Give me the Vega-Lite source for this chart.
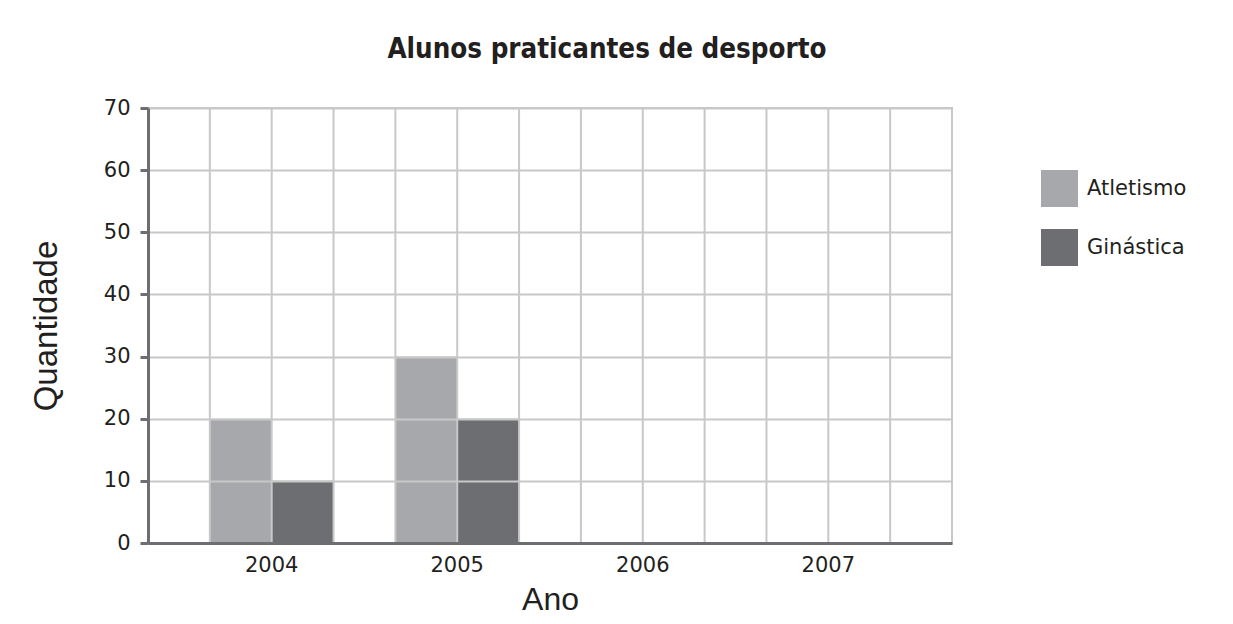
{
  "$schema": "https://vega.github.io/schema/vega-lite/v6.json",
  "width": 804,
  "height": 435,
  "autosize": {"type": "none"},
  "padding": {"left": 148, "top": 108, "right": 281, "bottom": 81},
  "background": "white",
  "title": {
    "text": "Alunos praticantes de desporto",
    "font": "DejaVu Sans Condensed",
    "fontWeight": "bold",
    "fontSize": 27.5,
    "color": "#231f20",
    "anchor": "middle",
    "frame": "group",
    "dx": 57,
    "offset": 34
  },
  "config": {
    "view": {"stroke": "#c8c8c8", "strokeWidth": 2},
    "font": "DejaVu Sans"
  },
  "datasets": {
    "bars": [
      {"Ano": "2004", "Desporto": "Atletismo", "Quantidade": 20},
      {"Ano": "2004", "Desporto": "Ginástica", "Quantidade": 10},
      {"Ano": "2005", "Desporto": "Atletismo", "Quantidade": 30},
      {"Ano": "2005", "Desporto": "Ginástica", "Quantidade": 20}
    ],
    "years": [
      {"Ano": "2004"},
      {"Ano": "2005"},
      {"Ano": "2006"},
      {"Ano": "2007"}
    ]
  },
  "layer": [
    {
      "data": {"name": "bars"},
      "mark": {"type": "bar"},
      "encoding": {
        "x": {
          "field": "Ano",
          "type": "ordinal",
          "scale": {"domain": ["2004", "2005", "2006", "2007"], "paddingInner": 0.3333, "paddingOuter": 0.3333},
          "axis": {
            "title": "Ano",
            "titleFont": "Liberation Sans",
            "titleFontSize": 32,
            "titleFontWeight": "normal",
            "titleColor": "#231f20",
            "titlePadding": 9,
            "labelFont": "DejaVu Sans",
            "labelFontSize": 21,
            "labelColor": "#231f20",
            "labelAngle": 0,
            "labelPadding": 11,
            "ticks": false,
            "grid": false,
            "domainColor": "#6d6e71",
            "domainWidth": 3,
            "zindex": 1
          }
        },
        "xOffset": {"field": "Desporto", "type": "nominal", "scale": {"paddingInner": 0, "paddingOuter": 0}},
        "y": {
          "field": "Quantidade",
          "type": "quantitative",
          "scale": {"domain": [0, 70]},
          "axis": {
            "title": "Quantidade",
            "titleFont": "Liberation Sans",
            "titleFontSize": 33,
            "titleFontWeight": "normal",
            "titleColor": "#231f20",
            "titlePadding": 40,
            "values": [0, 10, 20, 30, 40, 50, 60, 70],
            "labelFont": "DejaVu Sans",
            "labelFontSize": 21,
            "labelColor": "#231f20",
            "labelPadding": 10,
            "tickSize": 8,
            "tickWidth": 3,
            "tickColor": "#6d6e71",
            "domainColor": "#6d6e71",
            "domainWidth": 3,
            "grid": true,
            "gridColor": "#c8c8c8",
            "gridWidth": 2,
            "zindex": 1
          }
        },
        "color": {
          "field": "Desporto",
          "type": "nominal",
          "scale": {"domain": ["Atletismo", "Ginástica"], "range": ["#a7a8ab", "#6d6e71"]},
          "legend": {
            "title": null,
            "orient": "none",
            "legendX": 893,
            "legendY": 62,
            "padding": 0,
            "symbolType": "square",
            "symbolSize": 1369,
            "symbolStrokeWidth": 0,
            "symbolOpacity": 1,
            "labelFont": "DejaVu Sans",
            "labelFontSize": 21,
            "labelColor": "#231f20",
            "labelOffset": 9,
            "rowPadding": 22
          }
        }
      }
    },
    {
      "data": {"name": "years"},
      "mark": {"type": "rule", "color": "#c8c8c8", "strokeWidth": 2},
      "encoding": {"x": {"field": "Ano", "type": "ordinal", "bandPosition": 0}}
    },
    {
      "data": {"name": "years"},
      "mark": {"type": "rule", "color": "#c8c8c8", "strokeWidth": 2},
      "encoding": {"x": {"field": "Ano", "type": "ordinal", "bandPosition": 0.5}}
    },
    {
      "data": {"name": "years"},
      "mark": {"type": "rule", "color": "#c8c8c8", "strokeWidth": 2},
      "encoding": {"x": {"field": "Ano", "type": "ordinal", "bandPosition": 1}}
    }
  ]
}
